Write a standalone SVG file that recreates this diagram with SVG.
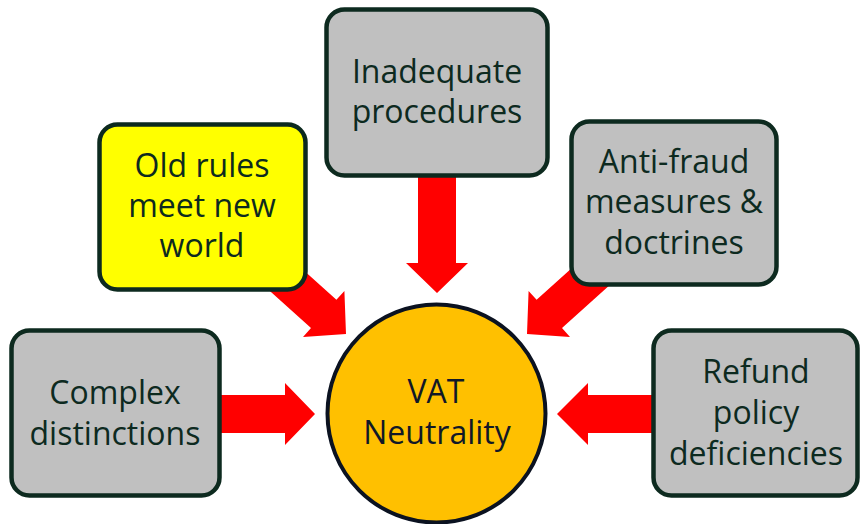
<svg xmlns="http://www.w3.org/2000/svg" width="861" height="524" viewBox="0 0 861 524">
  <style>
    .arrow { fill: #ff0000; }
    .box { fill: #c0c0c0; stroke: #0d2a1f; stroke-width: 4.5; }
    .box.hl { fill: #ffff00; }
    .label { font-family: "Open Sans", "Noto Sans", "DejaVu Sans", sans-serif; font-size: 32px; fill: #0d2a1f; text-anchor: middle; }
    .hub { fill: #ffc000; stroke: #0b1220; stroke-width: 4; }
    .hub-label { font-family: "Open Sans", "Noto Sans", "DejaVu Sans", sans-serif; font-size: 32px; fill: #111827; text-anchor: middle; }
  </style>

  <!-- block arrows pointing into the central circle (drawn first, boxes overlap their tails) -->
  <g id="connectors">
    <!-- top: Inadequate procedures -->
    <polygon class="arrow" points="418,170 456,170 456,263 468,263 437,293 406,263 418,263"/>
    <!-- upper left: Old rules meet new world -->
    <polygon class="arrow" points="284.4,253 336.4,299.8 344.4,290.9 346,334 303,336.9 311,328 259,281.2"/>
    <!-- upper right: Anti-fraud measures & doctrines -->
    <polygon class="arrow" points="588.6,253 536.6,299.8 528.6,290.9 527,334 570,336.9 562,328 614,281.2"/>
    <!-- left: Complex distinctions -->
    <polygon class="arrow" points="215,395 285,395 285,383 315,414 285,445 285,433 215,433"/>
    <!-- right: Refund policy deficiencies -->
    <polygon class="arrow" points="660,395 588,395 588,383 557,414 588,445 588,433 660,433"/>
  </g>

  <g id="node-inadequate">
    <rect class="box" x="326.5" y="9.5" width="221" height="166" rx="18"/>
    <text class="label" x="437" y="83">Inadequate</text>
    <text class="label" x="437" y="123">procedures</text>
  </g>

  <g id="node-old-rules">
    <rect class="box hl" x="99.5" y="124.5" width="206" height="165" rx="18"/>
    <text class="label" x="202" y="177">Old rules</text>
    <text class="label" x="202" y="217">meet new</text>
    <text class="label" x="202" y="257">world</text>
  </g>

  <g id="node-anti-fraud">
    <rect class="box" x="571.5" y="121.5" width="205" height="163" rx="18"/>
    <text class="label" x="674" y="173">Anti-fraud</text>
    <text class="label" x="674" y="213">measures &amp;</text>
    <text class="label" x="674" y="254">doctrines</text>
  </g>

  <g id="node-complex">
    <rect class="box" x="11.5" y="330.5" width="208" height="165" rx="18"/>
    <text class="label" x="115" y="404">Complex</text>
    <text class="label" x="115" y="445">distinctions</text>
  </g>

  <g id="node-refund">
    <rect class="box" x="653.5" y="330.5" width="204" height="165" rx="18"/>
    <text class="label" x="756" y="383">Refund</text>
    <text class="label" x="756" y="424">policy</text>
    <text class="label" x="756" y="465">deficiencies</text>
  </g>

  <g id="node-vat-neutrality">
    <circle class="hub" cx="436.5" cy="413.5" r="109"/>
    <text class="hub-label" x="436" y="403">VAT</text>
    <text class="hub-label" x="437" y="444">Neutrality</text>
  </g>
</svg>
